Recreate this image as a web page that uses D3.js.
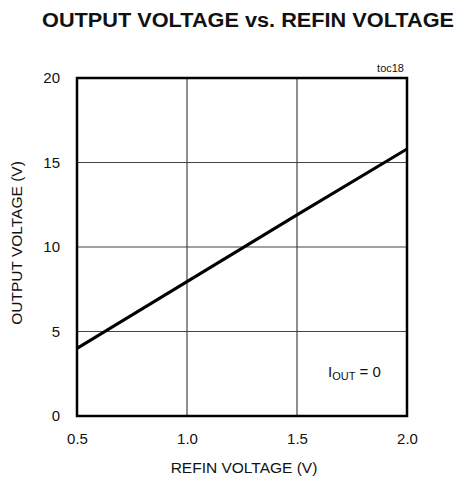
<!DOCTYPE html>
<html>
<head>
<meta charset="utf-8">
<script src="https://cdn.jsdelivr.net/npm/d3@7"></script>
<style>
  body { margin: 0; background: #fff; }
  text { font-family: "Liberation Sans", Arial, sans-serif; fill: #111; }
</style>
</head>
<body>
<div id="chart"></div>
<script>
// data
const refinV = [0.5, 1.0, 1.5, 2.0];
const outV = [4.0, 7.95, 11.9, 15.8];
const xTicks = [0.5, 1.0, 1.5, 2.0];
const yTicks = [0, 5, 10, 15, 20];

const width = 463, height = 481;
const margin = {top: 78, right: 56, bottom: 65, left: 77};
const w = width - margin.left - margin.right;
const h = height - margin.top - margin.bottom;

const svg = d3.select("#chart").append("svg")
    .attr("width", width)
    .attr("height", height);

// title
svg.append("text")
    .attr("x", 248).attr("y", 27)
    .attr("text-anchor", "middle")
    .attr("textLength", 412)
    .attr("lengthAdjust", "spacingAndGlyphs")
    .style("font-size", "20px")
    .style("font-weight", "bold")
    .text("OUTPUT VOLTAGE vs. REFIN VOLTAGE");

const g = svg.append("g").attr("transform", `translate(${margin.left},${margin.top})`);

const x = d3.scaleLinear().domain([0.5, 2.0]).range([0, w]);
const y = d3.scaleLinear().domain([0, 20]).range([h, 0]);

// grid
g.selectAll(".vgrid").data(xTicks.slice(1, -1)).enter().append("line")
    .attr("x1", d => x(d)).attr("x2", d => x(d))
    .attr("y1", 0).attr("y2", h)
    .attr("stroke", "#444").attr("stroke-width", 1.2);
g.selectAll(".hgrid").data(yTicks.slice(1, -1)).enter().append("line")
    .attr("x1", 0).attr("x2", w)
    .attr("y1", d => y(d)).attr("y2", d => y(d))
    .attr("stroke", "#444").attr("stroke-width", 1.2);

// axes (labels only)
const xAxis = g.append("g")
    .attr("transform", `translate(0,${h})`)
    .call(d3.axisBottom(x).tickValues(xTicks).tickFormat(d3.format(".1f")).tickSize(0).tickPadding(17));
const yAxis = g.append("g")
    .call(d3.axisLeft(y).tickValues(yTicks).tickSize(0).tickPadding(17));
[xAxis, yAxis].forEach(a => {
    a.select(".domain").remove();
    a.selectAll("text").style("font-size", "15px").style("font-family", "'Liberation Sans', Arial, sans-serif").attr("fill", "#111");
});

// the line
const line = d3.line().x((d, i) => x(refinV[i])).y(d => y(d));
g.append("path")
    .datum(outV)
    .attr("d", line)
    .attr("fill", "none")
    .attr("stroke", "#000")
    .attr("stroke-width", 3);

// frame
g.append("rect")
    .attr("width", w).attr("height", h)
    .attr("fill", "none")
    .attr("stroke", "#000")
    .attr("stroke-width", 2.5);

// axis titles
svg.append("text")
    .attr("x", margin.left + w / 2 + 2).attr("y", 473)
    .attr("text-anchor", "middle")
    .style("font-size", "15.5px")
    .text("REFIN VOLTAGE (V)");
svg.append("text")
    .attr("transform", "translate(22,243) rotate(-90)")
    .attr("text-anchor", "middle")
    .style("font-size", "15.5px")
    .text("OUTPUT VOLTAGE (V)");

// annotations
svg.append("text")
    .attr("x", margin.left + w - 3).attr("y", 72)
    .attr("text-anchor", "end")
    .style("font-size", "11px")
    .text("toc18");

const lbl = svg.append("text")
    .attr("x", 328).attr("y", 377)
    .style("font-size", "15px");
lbl.append("tspan").text("I");
lbl.append("tspan").attr("dy", 3).style("font-size", "11px").text("OUT");
lbl.append("tspan").attr("dy", -3).text(" = 0");
</script>
</body>
</html>
